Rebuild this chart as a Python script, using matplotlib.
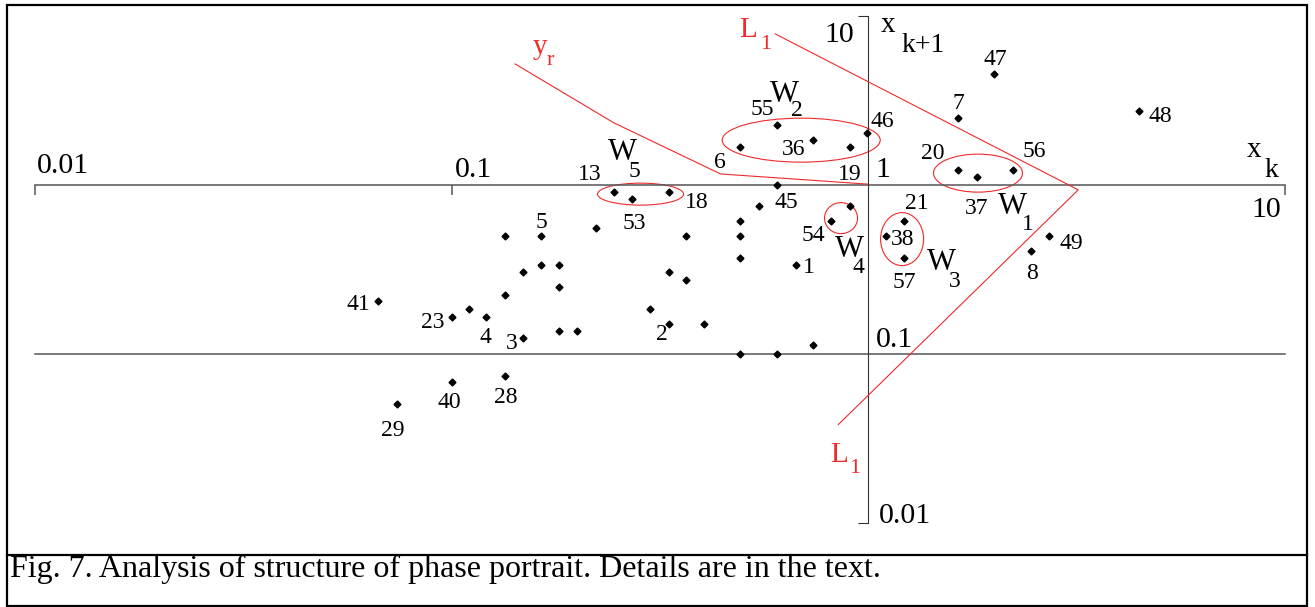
import matplotlib
matplotlib.use("Agg")
import matplotlib.pyplot as plt
from matplotlib.patches import Ellipse, Rectangle
from matplotlib.transforms import ScaledTranslation

plt.rcParams['font.family'] = ['Liberation Serif', 'DejaVu Serif']

W_PX, H_PX, DPI = 1315, 607, 100
RED = '#ee2a2a'

# phase portrait points: x_k and x_k+1
xk = [0.0667, 0.0738, 0.1, 0.1, 0.110, 0.121, 0.134, 0.134, 0.134, 0.1485,
      0.1485, 0.164, 0.164, 0.181, 0.181, 0.181, 0.2, 0.222, 0.245, 0.271,
      0.299, 0.332, 0.332, 0.332, 0.365, 0.365, 0.404, 0.493, 0.493, 0.493,
      0.493, 0.493, 0.546, 0.604, 0.604, 0.604, 0.671, 0.737, 0.737, 0.815,
      0.902, 0.905, 0.993, 1.10, 1.22, 1.22, 1.64, 1.64, 1.82, 2.0,
      2.22, 2.46, 2.71, 4.47]
xk1 = [0.204, 0.05, 0.166, 0.0676, 0.185, 0.166, 0.499, 0.223, 0.0741, 0.303,
       0.123, 0.499, 0.336, 0.336, 0.248, 0.137, 0.137, 0.554, 0.905, 0.823,
       0.185, 0.905, 0.303, 0.150, 0.499, 0.274, 0.150, 1.67, 0.612, 0.499,
       0.368, 0.1, 0.751, 2.27, 1.0, 0.1, 0.336, 1.85, 0.112, 0.612,
       0.751, 1.67, 2.03, 0.499, 0.612, 0.368, 1.23, 2.50, 1.12, 4.54,
       1.23, 0.407, 0.499, 2.74]
point_labels = ['41', '29', '23', '40', '', '4', '', '', '28', '',
                '3', '5', '', '', '', '', '', '', '13', '53',
                '', '18', '', '2', '', '', '', '6', '', '',
                '', '', '', '55', '45', '', '1', '36', '', '54',
                '', '19', '46', '38', '21', '57', '20', '7', '37', '47',
                '56', '8', '49', '48']

# label placement (pixels, relative to the point)
label_offsets = {
    '41': (-20, -9), '29': (-4, -32), '23': (-19, -11), '40': (-2, -26),
    '4': (-1, -26), '28': (1, -27), '3': (-11, -11), '5': (0, 8),
    '13': (-24, 12), '53': (2, -30), '18': (28, -16), '2': (-7, -16),
    '6': (-20, -21), '55': (-15, 10), '45': (9, -23), '1': (13, -8),
    '36': (-19, -15), '54': (-18, -20), '19': (-1, -33), '46': (15, 6),
    '38': (17, -9), '21': (12, 12), '57': (0, -30), '20': (-25, 11),
    '7': (1, 9), '37': (0, -37), '47': (2, 9), '56': (22, 13),
    '8': (1, -28), '49': (23, -13), '48': (21, -11),
}

# clusters W1..W5: centre (x_k, x_k+1)
cluster_names = ['1', '2', '3', '4', '5']
cluster_x = [1.833, 0.690, 1.205, 0.860, 0.284]
cluster_y = [1.173, 1.839, 0.477, 0.635, 0.881]
cluster_size_px = [(89, 38), (158, 44), (43, 53), (33, 31), (86, 22)]

# red guide lines
yr_x = [0.142, 0.245, 0.442, 0.995]
yr_y = [5.20, 2.33, 1.16, 1.01]
l1_x = [0.598, 3.19, 0.847]
l1_y = [7.83, 0.934, 0.038]

fig = plt.figure(figsize=(W_PX / DPI, H_PX / DPI), dpi=DPI)

# background axes in pixel units (y down) for frame and free text
bg = fig.add_axes([0, 0, 1, 1])
bg.set_xlim(0, W_PX)
bg.set_ylim(H_PX, 0)
bg.axis('off')

bg.add_patch(Rectangle((7, 5), 1300, 601, fill=False, ec='black', lw=1.6))
bg.plot([7, 1307], [555, 555], color='black', lw=1.6)
bg.text(10, 577, 'Fig. 7. Analysis of structure of phase portrait. Details are in the text.',
        fontsize=23, ha='left', va='baseline')

# log-log phase plane, 0.01..10 both ways
x0, x1, y_top, y_bot = 35, 1285, 16, 522.5
ax = fig.add_axes([x0 / W_PX, 1 - y_bot / H_PX, (x1 - x0) / W_PX, (y_bot - y_top) / H_PX])
ax.set_xscale('log')
ax.set_yscale('log')
ax.set_xlim(0.01, 10)
ax.set_ylim(0.01, 10)
ax.axis('off')
ax.patch.set_alpha(0)

ax.plot([0.01, 10], [1, 1], color='#555555', lw=1.1, clip_on=False)
ax.plot([0.01, 10], [0.1, 0.1], color='#555555', lw=1.1, clip_on=False)
ax.plot([1, 1], [0.01, 10], color='#333333', lw=0.8, clip_on=False)
ax.plot([0.01, 0.1, 10], [1, 1, 1], ls='', marker=3, ms=7, mew=1.1, color='#555555', clip_on=False)
ax.plot([1, 1], [0.01, 10], ls='', marker=0, ms=7, mew=0.8, color='#333333', clip_on=False)

# guide lines
ax.plot(yr_x, yr_y, color=RED, lw=0.8, clip_on=False)
ax.plot(l1_x, l1_y, color=RED, lw=0.8, clip_on=False)

# cluster ellipses, sized in pixels around a data centre
for cx, cy, (w, h) in zip(cluster_x, cluster_y, cluster_size_px):
    tr = fig.dpi_scale_trans + ScaledTranslation(cx, cy, ax.transData)
    ax.add_patch(Ellipse((0, 0), w / DPI, h / DPI, transform=tr, fill=False,
                         ec=RED, lw=0.8, clip_on=False))

ax.plot(xk, xk1, ls='', marker='D', ms=3.5, color='black', clip_on=False)

for x, y, lbl in zip(xk, xk1, point_labels):
    if lbl:
        ax.annotate(lbl, (x, y), xytext=label_offsets[lbl], textcoords='offset pixels',
                    ha='center', va='baseline', fontsize=17)


def sub_text(x, y, main, sub, xs, ys, size=21, sub_size=16, color='black', ha='left'):
    bg.text(x, y, main, fontsize=size, color=color, ha=ha, va='baseline')
    bg.text(xs, ys, sub, fontsize=sub_size, color=color, ha='left', va='baseline')


# tick labels
tick_font = 21.5
bg.text(37, 173, '0.01', fontsize=tick_font, ha='left', va='baseline')
bg.text(455, 177, '0.1', fontsize=tick_font, ha='left', va='baseline')
bg.text(875, 177, '1', fontsize=tick_font, ha='left', va='baseline')
bg.text(1281, 217, '10', fontsize=tick_font, ha='right', va='baseline')
bg.text(854, 42, '10', fontsize=tick_font, ha='right', va='baseline')
bg.text(876, 347, '0.1', fontsize=tick_font, ha='left', va='baseline')
bg.text(879, 523, '0.01', fontsize=tick_font, ha='left', va='baseline')

# axis names
sub_text(881, 32, 'x', 'k+1', 902, 52, size=21, sub_size=20)
sub_text(1247, 157, 'x', 'k', 1265, 177, size=21, sub_size=20)

# red labels
sub_text(739, 37, 'L', '1', 760, 49, color=RED)
sub_text(830, 462, 'L', '1', 849, 473, color=RED)
sub_text(533, 54, 'y', 'r', 547, 65, color=RED)

# cluster names
w_pos = {'1': (998, 214, 1022, 230), '2': (770, 102, 791, 116),
         '3': (927, 270, 949, 287), '4': (835, 257, 853, 273),
         '5': (608, 160, 629, 177)}
for name in cluster_names:
    wx, wy, sx, sy = w_pos[name]
    sub_text(wx, wy, 'W', name, sx, sy, size=22, sub_size=17)

fig.savefig('out.png', dpi=DPI)
